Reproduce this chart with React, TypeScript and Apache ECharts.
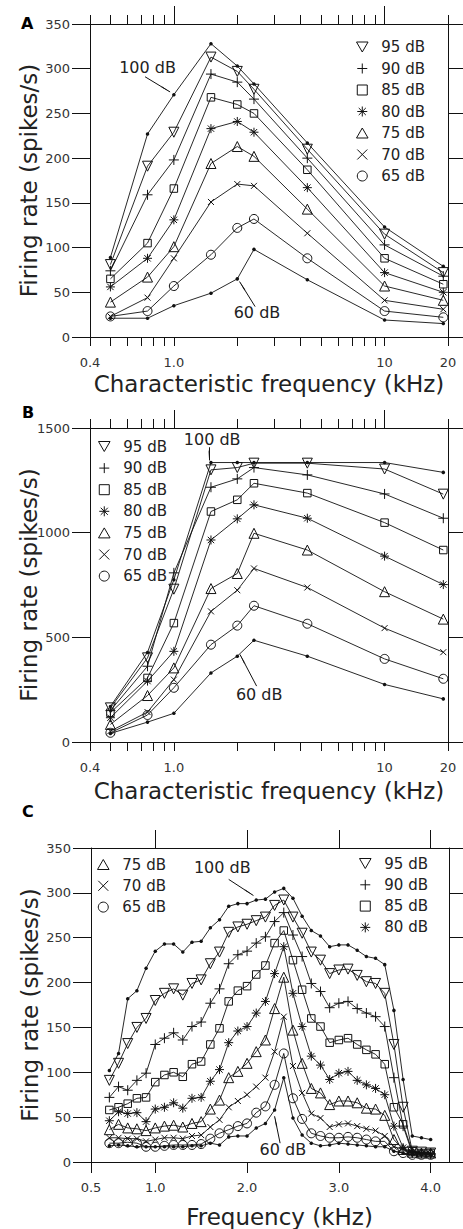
import React, { useEffect, useRef } from "react";
import * as echarts from "echarts";

const FONT = "DejaVu Sans";
const INK = "#111";
const TEXT = "#222";
const CLEAR = "rgba(0,0,0,0)";

// ---------- Panels A & B: characteristic frequency (kHz) ----------
const cfKHz = [0.5, 0.75, 1.0, 1.5, 2.0, 2.4, 4.3, 10, 19];

// Panel A firing rate (spikes/s)
const a100 = [89, 227, 271, 328, 303, 283, 217, 123, 79];
const a95 = [81, 191, 229, 313, 297, 277, 210, 115, 72];
const a90 = [74, 159, 198, 294, 285, 266, 200, 103, 68];
const a85 = [65, 105, 166, 268, 260, 250, 187, 88, 59];
const a80 = [56, 88, 131, 233, 241, 229, 167, 72, 50];
const a75 = [39, 67, 101, 194, 213, 202, 143, 57, 41];
const a70 = [23, 44, 88, 151, 171, 169, 116, 41, 31];
const a65 = [23, 29, 57, 92, 122, 132, 88, 29, 22];
const a60 = [21, 21, 35, 49, 65, 98, 64, 19, 15];

// Panel B firing rate (spikes/s)
const b100 = [170, 428, 775, 1335, 1335, 1335, 1335, 1335, 1288];
const b95 = [163, 402, 730, 1300, 1311, 1332, 1332, 1304, 1184];
const b90 = [150, 362, 808, 1217, 1257, 1311, 1276, 1185, 1069];
const b85 = [140, 306, 568, 1101, 1157, 1236, 1189, 1048, 917];
const b80 = [116, 291, 433, 965, 1066, 1133, 1069, 888, 752];
const b75 = [84, 222, 354, 733, 805, 997, 917, 718, 587];
const b70 = [52, 143, 298, 624, 725, 829, 738, 544, 429];
const b65 = [44, 129, 259, 465, 556, 651, 565, 397, 302];
const b60 = [41, 95, 137, 330, 410, 486, 410, 275, 206];

// ---------- Panel C: frequency (kHz) ----------
const freqC = [
  0.5, 0.6, 0.7, 0.8, 0.9, 1.0, 1.1, 1.2, 1.3, 1.4, 1.5, 1.6, 1.7, 1.8, 1.9, 2.0, 2.1, 2.2,
  2.3, 2.4, 2.5, 2.6, 2.7, 2.8, 2.9, 3.0, 3.1, 3.2, 3.3, 3.4, 3.5, 3.6, 3.7, 3.8, 3.9, 4.0,
];
const c100 = [102, 121, 182, 191, 216, 235, 243, 243, 234, 245, 246, 261, 270, 285, 288, 288, 292, 293, 301, 305, 294, 274, 258, 252, 240, 242, 242, 236, 229, 227, 220, 169, 92, 29, 27, 25];
const c95 = [91, 110, 132, 150, 160, 180, 188, 193, 186, 199, 203, 221, 234, 256, 262, 265, 269, 273, 286, 292, 273, 255, 234, 225, 210, 214, 215, 208, 201, 199, 188, 131, 61, 12, 11, 10];
const c90 = [72, 84, 80, 91, 99, 131, 138, 144, 136, 151, 156, 177, 193, 221, 231, 235, 244, 251, 268, 278, 253, 229, 199, 190, 172, 177, 179, 171, 166, 162, 151, 94, 40, 10, 10, 9];
const c85 = [58, 61, 65, 71, 72, 89, 97, 100, 95, 109, 112, 131, 149, 179, 191, 196, 209, 219, 244, 258, 225, 192, 160, 151, 133, 136, 138, 131, 125, 120, 109, 61, 42, 12, 10, 10];
const c80 = [46, 56, 54, 55, 45, 59, 61, 66, 60, 71, 72, 90, 103, 133, 146, 151, 166, 179, 210, 240, 188, 151, 118, 108, 92, 99, 101, 91, 86, 82, 75, 40, 16, 11, 10, 9];
const c75 = [36, 42, 38, 37, 35, 38, 40, 41, 39, 43, 45, 59, 69, 94, 101, 110, 123, 136, 171, 206, 147, 110, 82, 77, 64, 68, 68, 66, 60, 59, 52, 25, 14, 11, 10, 10];
const c70 = [27, 27, 26, 26, 23, 25, 27, 27, 26, 29, 30, 39, 47, 61, 68, 75, 84, 94, 123, 162, 107, 77, 54, 49, 39, 42, 43, 40, 37, 35, 29, 17, 14, 10, 9, 9];
const c65 = [21, 21, 22, 21, 17, 17, 18, 19, 19, 19, 20, 26, 32, 36, 40, 43, 55, 62, 86, 121, 71, 48, 32, 29, 27, 27, 28, 27, 25, 23, 23, 12, 10, 8, 8, 8];
const c60 = [18, 19, 18, 17, 17, 17, 17, 17, 17, 18, 18, 21, 19, 28, 29, 29, 38, 43, 58, 94, 49, 30, 21, 18, 19, 21, 20, 19, 18, 17, 17, 12, 10, 8, 8, 8];

// ---------- Axis ticks & labels ----------
const tickMinorAB = [0.4, 0.5, 0.6, 0.7, 0.8, 0.9, 2, 3, 4, 5, 6, 7, 8, 9, 20];
const tickMajorAB = [1, 10];
const tickAllAB = [0.4, 0.5, 0.6, 0.7, 0.8, 0.9, 1, 2, 3, 4, 5, 6, 7, 8, 9, 10, 20];
const labelValsAB = [0.4, 1, 10, 20];
const labelTextAB = ["0.4", "1.0", "10", "20"];
const tickTopC = [1, 2, 3, 4];
const labelValsC = [0.3, 1, 2, 3, 4];
const labelTextC = ["0.5", "1.0", "2.0", "3.0", "4.0"];

const legendAB = ["95 dB", "90 dB", "85 dB", "80 dB", "75 dB", "70 dB", "65 dB"];
const legendCLeft = ["75 dB", "70 dB", "65 dB"];
const legendCRight = ["95 dB", "90 dB", "85 dB", "80 dB"];

type Ann = { text: string; at: [number, number]; from: [number, number]; to: [number, number] };
const annA: Ann[] = [
  { text: "100 dB", at: [0.75, 301], from: [0.73, 291], to: [0.96, 274] },
  { text: "60 dB", at: [2.48, 27], from: [2.43, 34], to: [2.05, 62] },
];
const annB: Ann[] = [
  { text: "100 dB", at: [1.52, 1444], from: [1.47, 1408], to: [1.47, 1345] },
  { text: "60 dB", at: [2.54, 228], from: [2.47, 267], to: [2.06, 418] },
];
const annC: Ann[] = [
  { text: "100 dB", at: [1.73, 328], from: [1.8, 315], to: [2.07, 297] },
  { text: "60 dB", at: [2.39, 14], from: [2.36, 21], to: [2.3, 51] },
];

// ---------- Styling ----------
const SYMBOL: Record<string, string> = {
  "95 dB": "path://M0,0L10,0L5,8.66Z",
  "90 dB": "path://M5,0L5,10M0,5L10,5",
  "85 dB": "path://M0,0L10,0L10,10L0,10Z",
  "80 dB": "path://M5,0L5,10M0,5L10,5M1.46,1.46L8.54,8.54M8.54,1.46L1.46,8.54",
  "75 dB": "path://M5,0L10,8.66L0,8.66Z",
  "70 dB": "path://M0,0L10,10M10,0L0,10",
  "65 dB": "circle",
};
const SIZE: Record<string, number> = {
  "95 dB": 10,
  "90 dB": 10,
  "85 dB": 7.5,
  "80 dB": 9,
  "75 dB": 10,
  "70 dB": 6,
  "65 dB": 9,
};

function nearestLabel(vals: number[], labels: string[]) {
  return (v: number) => {
    let bi = 0;
    for (let i = 1; i < vals.length; i++) {
      if (Math.abs(Math.log(v / vals[i])) < Math.abs(Math.log(v / vals[bi]))) bi = i;
    }
    return labels[bi];
  };
}

const lineAxis = { show: true, onZero: false, lineStyle: { color: INK, width: 1 } };
const tickStyle = { color: INK, width: 1 };

function xAxesFor(
  g: number,
  kind: "log" | "value",
  min: number,
  max: number,
  bottomTicks: number[],
  bottomLen: number,
  labelVals: number[],
  labelText: string[],
  topMajor: number[],
  topMinor: number[],
  name: string,
  nameGap: number,
  namePadLeft: number
) {
  const common: any = {
    gridIndex: g,
    type: kind,
    min,
    max,
    splitLine: { show: false },
    axisLine: lineAxis,
    axisPointer: { show: false },
    silent: true,
  };
  if (kind === "log") common.logBase = 10;
  return [
    {
      ...common,
      position: "bottom",
      axisTick: { show: true, inside: false, length: bottomLen, customValues: bottomTicks, lineStyle: tickStyle },
      axisLabel: {
        show: true,
        customValues: labelVals,
        formatter: nearestLabel(labelVals, labelText),
        margin: 19,
        color: "#333",
        fontSize: 13,
        fontFamily: FONT,
      },
      name,
      nameLocation: "middle",
      nameGap,
      nameMoveOverlap: false,
      nameTextStyle: { fontSize: 23, fontFamily: FONT, color: TEXT, padding: [0, 0, 0, namePadLeft] },
    },
    {
      ...common,
      position: "top",
      axisTick: { show: topMajor.length > 0, inside: false, length: 18, customValues: topMajor.length ? topMajor : [max], lineStyle: tickStyle },
      axisLabel: { show: false },
    },
    {
      ...common,
      position: "top",
      axisTick: { show: topMinor.length > 0, inside: false, length: 9, customValues: topMinor.length ? topMinor : [max], lineStyle: tickStyle },
      axisLabel: { show: false },
    },
  ];
}

function yAxesFor(g: number, max: number, interval: number) {
  const common: any = {
    gridIndex: g,
    type: "value",
    min: 0,
    max,
    interval,
    splitLine: { show: false },
    axisLine: lineAxis,
    axisPointer: { show: false },
    silent: true,
  };
  return [
    {
      ...common,
      position: "left",
      axisTick: { show: true, inside: false, length: 18, lineStyle: tickStyle },
      axisLabel: {
        show: true,
        margin: 20,
        color: "#333",
        fontSize: 13,
        fontFamily: FONT,
        formatter: (v: number) => String(v),
      },
      name: "Firing rate (spikes/s)",
      nameLocation: "middle",
      nameRotate: 90,
      nameGap: 50,
      nameMoveOverlap: false,
      nameTextStyle: { fontSize: 23, fontFamily: FONT, color: TEXT },
    },
    {
      ...common,
      position: "right",
      axisTick: { show: true, inside: false, length: 15, lineStyle: tickStyle },
      axisLabel: { show: false },
    },
  ];
}

function panelSeries(g: number, xs: number[], rows: [string, number[]][], ann: Ann[]) {
  return rows.map(([name, ys]) => {
    const isDot = name === "100 dB" || name === "60 dB";
    const s: any = {
      type: "line",
      name,
      xAxisIndex: 3 * g,
      yAxisIndex: 2 * g,
      data: xs.map((x, i) => [x, ys[i]]),
      symbol: isDot ? "circle" : SYMBOL[name],
      symbolSize: isDot ? 3.5 : SIZE[name],
      showSymbol: true,
      showAllSymbol: true,
      lineStyle: { color: INK, width: 0.9 },
      itemStyle: isDot
        ? { color: INK, borderWidth: 0 }
        : { color: CLEAR, borderColor: INK, borderWidth: 1 },
      emphasis: { disabled: true },
      silent: true,
      animation: false,
    };
    if (name === "100 dB") {
      s.markLine = {
        silent: true,
        animation: false,
        symbol: ["none", "arrow"],
        symbolSize: [1, 11],
        label: { show: false },
        emphasis: { disabled: true },
        itemStyle: { color: INK },
        lineStyle: { color: INK, width: 1, type: "solid" },
        data: ann.map((a) => [{ coord: a.from }, { coord: a.to }]),
      };
      s.markPoint = {
        silent: true,
        animation: false,
        symbol: "rect",
        symbolSize: 1,
        itemStyle: { color: CLEAR },
        emphasis: { disabled: true },
        label: { show: true, position: "inside", color: TEXT, fontSize: 16, fontFamily: FONT },
        data: ann.map((a) => ({ coord: a.at, value: a.text, label: { formatter: a.text } })),
      };
    }
    return s;
  });
}

function legendFor(names: string[], left: number, top: number, gap: number) {
  return {
    data: names.map((n) => ({ name: n, icon: SYMBOL[n] })),
    orient: "vertical",
    left,
    top,
    itemGap: gap,
    itemWidth: 28,
    itemHeight: 10,
    padding: 0,
    selectedMode: false,
    symbolKeepAspect: true,
    itemStyle: { color: CLEAR, borderColor: INK, borderWidth: 1 },
    textStyle: { fontSize: 15, fontFamily: FONT, color: TEXT },
  };
}

const option: any = {
  animation: false,
  backgroundColor: "#fff",
  textStyle: { fontFamily: FONT },
  grid: [
    { left: 90, top: 24, width: 358, height: 313, containLabel: false, outerBoundsMode: "none" },
    { left: 90, top: 428, width: 358, height: 314, containLabel: false, outerBoundsMode: "none" },
    { left: 91, top: 848, width: 358, height: 314, containLabel: false, outerBoundsMode: "none" },
  ],
  xAxis: [
    ...xAxesFor(0, "log", 0.4, 20, tickAllAB, 9, labelValsAB, labelTextAB, tickMajorAB, tickMinorAB, "Characteristic frequency (kHz)", 35, 0),
    ...xAxesFor(1, "log", 0.4, 20, tickAllAB, 9, labelValsAB, labelTextAB, tickMajorAB, tickMinorAB, "Characteristic frequency (kHz)", 37, 0),
    ...xAxesFor(2, "value", 0.3, 4.2, labelValsC, 11, labelValsC, labelTextC, tickTopC, [], "Frequency (kHz)", 43, 19),
  ],
  yAxis: [...yAxesFor(0, 350, 50), ...yAxesFor(1, 1500, 500), ...yAxesFor(2, 350, 50)],
  legend: [
    legendFor(legendAB, 356, 39.5, 6.5),
    legendFor(legendAB, 98, 439, 6.6),
    legendFor(legendCLeft, 97, 857, 6.3),
    legendFor(legendCRight, 359, 856, 6.3),
  ],
  graphic: [
    { type: "text", left: 21, top: 15, style: { text: "A", font: `bold 16px "${FONT}"`, fill: "#000" } },
    { type: "text", left: 22, top: 404, style: { text: "B", font: `bold 16px "${FONT}"`, fill: "#000" } },
    { type: "text", left: 22, top: 803, style: { text: "C", font: `bold 16px "${FONT}"`, fill: "#000" } },
  ],
  series: [
    ...panelSeries(0, cfKHz, [
      ["100 dB", a100], ["95 dB", a95], ["90 dB", a90], ["85 dB", a85], ["80 dB", a80],
      ["75 dB", a75], ["70 dB", a70], ["65 dB", a65], ["60 dB", a60],
    ], annA),
    ...panelSeries(1, cfKHz, [
      ["100 dB", b100], ["95 dB", b95], ["90 dB", b90], ["85 dB", b85], ["80 dB", b80],
      ["75 dB", b75], ["70 dB", b70], ["65 dB", b65], ["60 dB", b60],
    ], annB),
    ...panelSeries(2, freqC, [
      ["100 dB", c100], ["95 dB", c95], ["90 dB", c90], ["85 dB", c85], ["80 dB", c80],
      ["75 dB", c75], ["70 dB", c70], ["65 dB", c65], ["60 dB", c60],
    ], annC),
  ],
};

export default function App() {
  const ref = useRef<HTMLDivElement>(null);
  useEffect(() => {
    const chart = echarts.init(ref.current!, undefined, { renderer: "svg" });
    chart.setOption(option);
    return () => chart.dispose();
  }, []);
  return (
    <div
      ref={ref}
      style={{ position: "absolute", left: 0, top: 0, width: 463, height: 1229, background: "#fff" }}
    />
  );
}
